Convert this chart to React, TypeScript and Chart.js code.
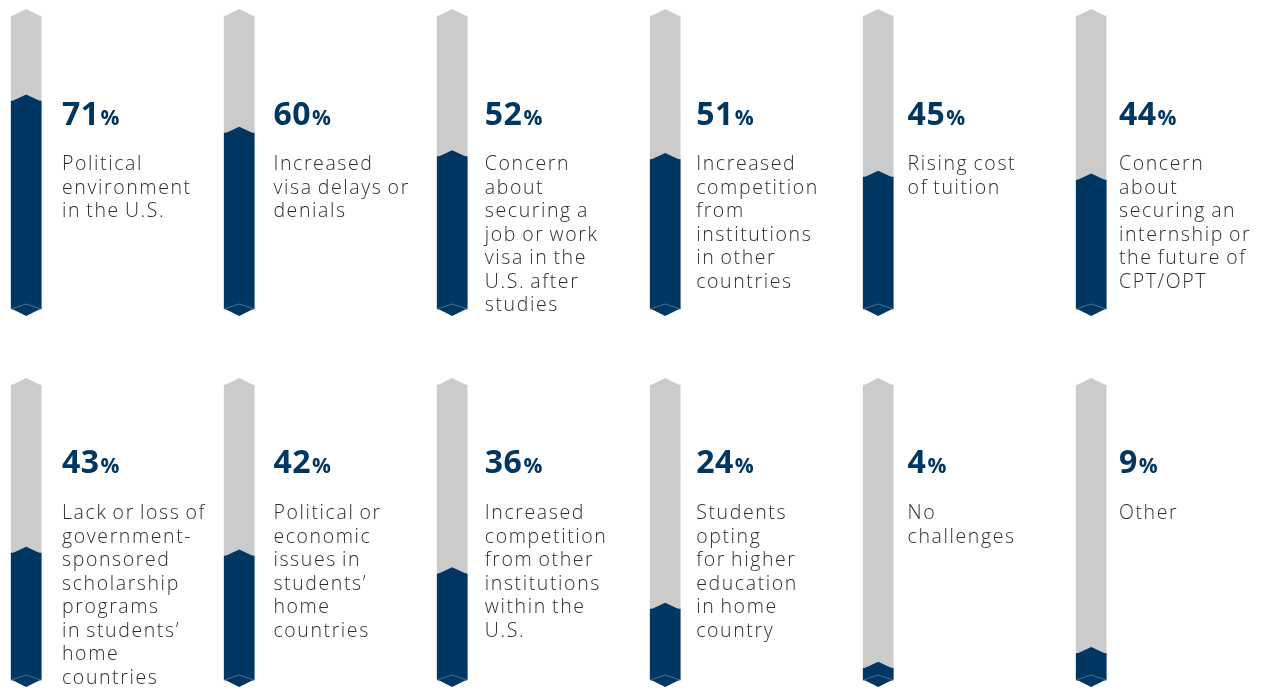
import React, { useEffect, useRef } from "react";
import { Chart, registerables } from "chart.js";

Chart.register(...registerables);

// ---------- DATA ----------
const row1Categories = [
  "Political environment in the U.S.",
  "Increased visa delays or denials",
  "Concern about securing a job or work visa in the U.S. after studies",
  "Increased competition from institutions in other countries",
  "Rising cost of tuition",
  "Concern about securing an internship or the future of CPT/OPT",
];
const row1Values = [71, 60, 52, 51, 45, 44];
const row1Lines = [
  ["Political", "environment", "in the U.S."],
  ["Increased", "visa delays or", "denials"],
  ["Concern", "about", "securing a", "job or work", "visa in the", "U.S. after", "studies"],
  ["Increased", "competition", "from", "institutions", "in other", "countries"],
  ["Rising cost", "of tuition"],
  ["Concern", "about", "securing an", "internship or", "the future of", "CPT/OPT"],
];

const row2Categories = [
  "Lack or loss of government-sponsored scholarship programs in students’ home countries",
  "Political or economic issues in students’ home countries",
  "Increased competition from other institutions within the U.S.",
  "Students opting for higher education in home country",
  "No challenges",
  "Other",
];
const row2Values = [43, 42, 36, 24, 4, 9];
const row2Lines = [
  ["Lack or loss of", "government-", "sponsored", "scholarship", "programs", "in students’", "home", "countries"],
  ["Political or", "economic", "issues in", "students’", "home", "countries"],
  ["Increased", "competition", "from other", "institutions", "within the", "U.S."],
  ["Students", "opting", "for higher", "education", "in home", "country"],
  ["No", "challenges"],
  ["Other"],
];

const trackMax = 100;

// ---------- STYLE ----------
const NAVY = "#003662";
const GRAY = "#cbcbcb";
const TEXT = "#2e2e2e";
const TEXT_LEFT = 62;
const TEXT_STEP = 211.4;

type RowProps = {
  categories: string[];
  values: number[];
  lines: string[][];
  padTop: number;
  padBottom: number;
  pctY: number;
  labelY: number;
};

function RowChart({ categories, values, lines, padTop, padBottom, pctY, labelY }: RowProps) {
  const ref = useRef<HTMLCanvasElement | null>(null);

  useEffect(() => {
    if (!ref.current) return;
    const decor = {
      id: "decor",
      afterDatasetsDraw(chart: any) {
        const ctx = chart.ctx as CanvasRenderingContext2D;
        const fillMeta = chart.getDatasetMeta(0).data;
        const trackMeta = chart.getDatasetMeta(1).data;
        ctx.save();
        fillMeta.forEach((bar: any, i: number) => {
          const p = bar.getProps(["x", "y", "base", "width"], true);
          const t = trackMeta[i].getProps(["x", "y", "base", "width"], true);
          const l = p.x - p.width / 2;
          const r = p.x + p.width / 2;
          // gray top chevron
          ctx.fillStyle = GRAY;
          ctx.beginPath();
          ctx.moveTo(l, t.y + 0.5);
          ctx.lineTo(p.x, t.y - 7);
          ctx.lineTo(r, t.y + 0.5);
          ctx.closePath();
          ctx.fill();
          // navy top chevron
          ctx.fillStyle = NAVY;
          ctx.beginPath();
          ctx.moveTo(l, p.y + 0.5);
          ctx.lineTo(p.x, p.y - 6.5);
          ctx.lineTo(r, p.y + 0.5);
          ctx.closePath();
          ctx.fill();
          // navy bottom chevron
          ctx.beginPath();
          ctx.moveTo(l, p.base - 0.5);
          ctx.lineTo(p.x, p.base + 7);
          ctx.lineTo(r, p.base - 0.5);
          ctx.closePath();
          ctx.fill();
          // thin inner line at bottom
          ctx.strokeStyle = "rgba(160,185,210,0.55)";
          ctx.lineWidth = 0.8;
          ctx.beginPath();
          ctx.moveTo(l, p.base);
          ctx.lineTo(p.x, p.base - 5);
          ctx.lineTo(r, p.base);
          ctx.stroke();
        });
        ctx.restore();
      },
      afterDraw(chart: any) {
        const ctx = chart.ctx as CanvasRenderingContext2D;
        ctx.save();
        ctx.textBaseline = "alphabetic";
        ctx.textAlign = "left";
        values.forEach((v, i) => {
          const x = TEXT_LEFT + i * TEXT_STEP;
          const num = String(v);
          ctx.fillStyle = NAVY;
          (ctx as any).letterSpacing = "0.5px";
          (ctx as any).wordSpacing = "0px";
          ctx.font = "700 32px 'Open Sans', 'DejaVu Sans', sans-serif";
          ctx.fillText(num, x, pctY);
          const w = ctx.measureText(num).width;
          ctx.font = "700 21px 'Open Sans', 'DejaVu Sans', sans-serif";
          ctx.fillText("%", x + w + 1, pctY);
          ctx.fillStyle = TEXT;
          (ctx as any).letterSpacing = "1.6px";
          (ctx as any).wordSpacing = "-1.5px";
          ctx.font = "300 19.5px 'Open Sans', 'DejaVu Sans', sans-serif";
          lines[i].forEach((ln, k) => {
            ctx.fillText(ln, x, labelY + k * 23.5);
          });
        });
        ctx.restore();
      },
    };

    const chart = new Chart(ref.current, {
      type: "bar",
      data: {
        labels: categories,
        datasets: [
          {
            label: "Share",
            data: values,
            backgroundColor: NAVY,
            barThickness: 30,
            grouped: false,
            order: 0,
            clip: false as any,
            borderWidth: 0,
          },
          {
            label: "Track",
            data: categories.map(() => trackMax),
            backgroundColor: GRAY,
            barThickness: 30,
            grouped: false,
            order: 1,
            clip: false as any,
            borderWidth: 0,
          },
        ],
      },
      options: {
        responsive: false,
        animation: false,
        devicePixelRatio: 1,
        layout: { padding: { left: 26.2, right: 172.8, top: padTop, bottom: padBottom } },
        plugins: { legend: { display: false }, tooltip: { enabled: false } },
        scales: {
          x: { type: "category", offset: false, display: false, grid: { display: false } },
          y: { min: 0, max: trackMax, display: false, grid: { display: false } },
        },
      },
      plugins: [decor],
    });
    return () => chart.destroy();
  }, [categories, values, lines, padTop, padBottom, pctY, labelY]);

  return <canvas ref={ref} width={1264} height={345} style={{ display: "block", width: 1264, height: 345 }} />;
}

export default function App() {
  return (
    <div style={{ position: "absolute", left: 0, top: 0, width: 1264, height: 690, background: "#fff" }}>
      <RowChart
        categories={row1Categories}
        values={row1Values}
        lines={row1Lines}
        padTop={16}
        padBottom={36}
        pctY={125}
        labelY={170}
      />
      <RowChart
        categories={row2Categories}
        values={row2Values}
        lines={row2Lines}
        padTop={40}
        padBottom={10}
        pctY={128}
        labelY={174}
      />
    </div>
  );
}
